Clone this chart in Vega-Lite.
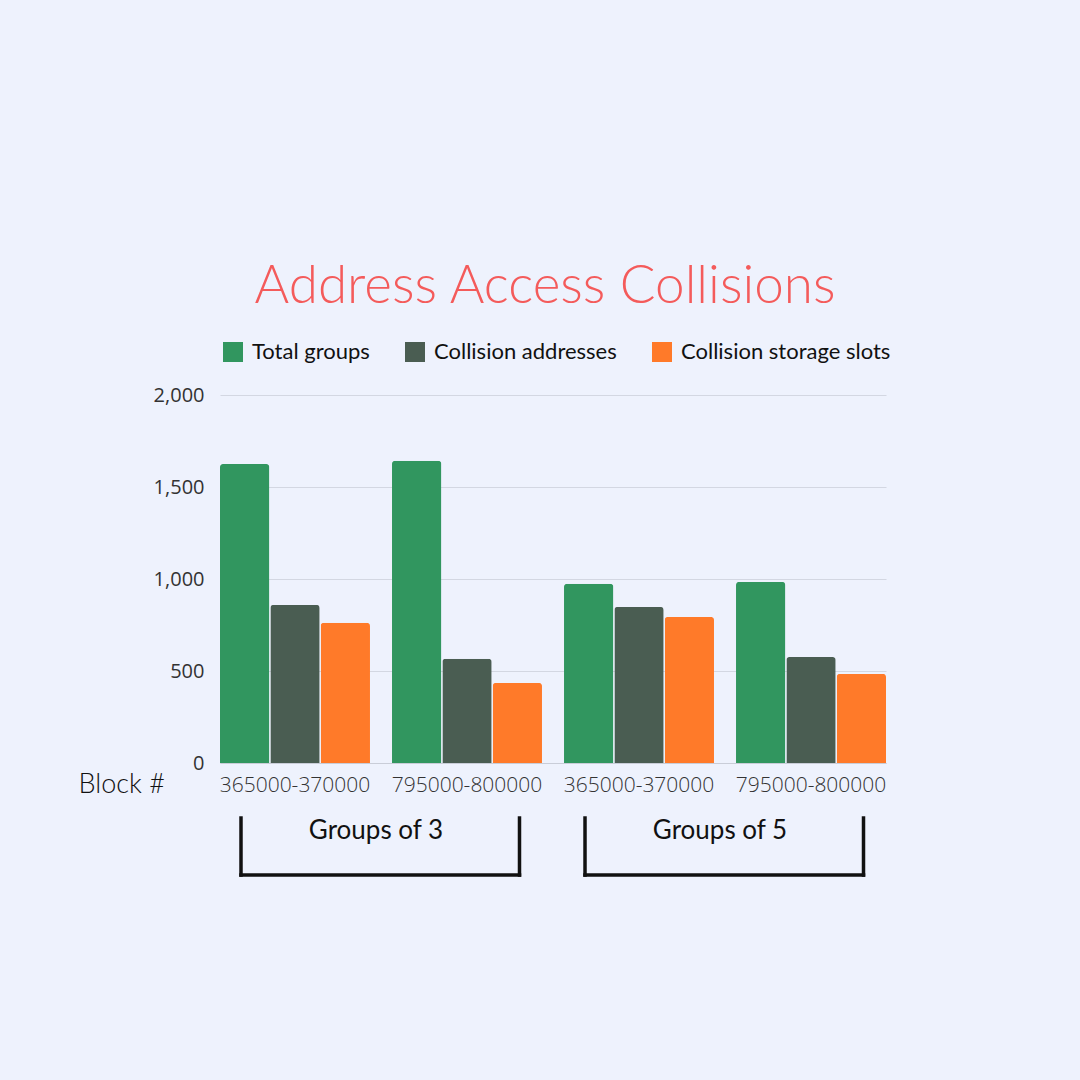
{
  "$schema": "https://vega.github.io/schema/vega-lite/v6.json",
  "width": 666,
  "height": 368,
  "autosize": {"type": "none"},
  "padding": {"left": 220, "top": 395, "right": 194, "bottom": 317},
  "background": "#EEF2FD",
  "title": {
    "text": "Address Access Collisions",
    "frame": "group",
    "anchor": "middle",
    "dx": -8,
    "offset": 27,
    "font": "Lato",
    "fontSize": 53,
    "fontWeight": 300,
    "color": "#F45B5B"
  },
  "config": {
    "view": {"stroke": null},
    "axis": {"labelFont": "Open Sans", "labelColor": "#333333"}
  },
  "datasets": {
    "bars": [
      {"block": "G3|365000-370000", "series": "Total groups", "count": 1625},
      {"block": "G3|365000-370000", "series": "Collision addresses", "count": 859},
      {"block": "G3|365000-370000", "series": "Collision storage slots", "count": 762},
      {"block": "G3|795000-800000", "series": "Total groups", "count": 1642},
      {"block": "G3|795000-800000", "series": "Collision addresses", "count": 566},
      {"block": "G3|795000-800000", "series": "Collision storage slots", "count": 435},
      {"block": "G5|365000-370000", "series": "Total groups", "count": 974},
      {"block": "G5|365000-370000", "series": "Collision addresses", "count": 848},
      {"block": "G5|365000-370000", "series": "Collision storage slots", "count": 794},
      {"block": "G5|795000-800000", "series": "Total groups", "count": 984},
      {"block": "G5|795000-800000", "series": "Collision addresses", "count": 576},
      {"block": "G5|795000-800000", "series": "Collision storage slots", "count": 484}
    ],
    "brackets": [
      {"group": "Groups of 3", "first": "G3|365000-370000", "last": "G3|795000-800000"},
      {"group": "Groups of 5", "first": "G5|365000-370000", "last": "G5|795000-800000"}
    ]
  },
  "layer": [
    {
      "data": {"name": "bars"},
      "mark": {"type": "bar", "cornerRadiusTopLeft": 3, "cornerRadiusTopRight": 3},
      "encoding": {
        "x": {
          "field": "block",
          "type": "nominal",
          "title": "Block #",
          "scale": {
            "domain": ["G3|365000-370000", "G3|795000-800000", "G5|365000-370000", "G5|795000-800000"],
            "paddingInner": 0.128,
            "paddingOuter": 0
          },
          "axis": {
            "title": "Block #",
            "titleFont": "Lato",
            "titleFontSize": 27,
            "titleFontWeight": 300,
            "titleColor": "#111111",
            "titleAlign": "left",
            "titleBaseline": "alphabetic",
            "titleX": -142,
            "titleY": 29,
            "labelExpr": "split(datum.label, '|')[1]",
            "labelAngle": 0,
            "labelFontSize": 21,
            "labelFontWeight": 300,
            "labelPadding": 11,
            "labelLimit": 300,
            "ticks": false,
            "domainColor": "#C9CDD8"
          }
        },
        "xOffset": {
          "field": "series",
          "type": "nominal",
          "sort": ["Total groups", "Collision addresses", "Collision storage slots"],
          "scale": {"paddingInner": 0.02}
        },
        "y": {
          "field": "count",
          "type": "quantitative",
          "scale": {"domain": [0, 2000], "nice": false},
          "axis": {
            "title": null,
            "values": [0, 500, 1000, 1500, 2000],
            "format": ",d",
            "domain": false,
            "ticks": false,
            "labelFontSize": 20,
            "labelPadding": 16,
            "gridColor": "#D3D7E2"
          }
        },
        "color": {
          "field": "series",
          "type": "nominal",
          "scale": {
            "domain": ["Total groups", "Collision addresses", "Collision storage slots"],
            "range": ["#31965F", "#4A5D52", "#FF7A29"]
          },
          "legend": {
            "title": null,
            "orient": "none",
            "direction": "horizontal",
            "legendX": 2,
            "legendY": -54,
            "symbolType": "square",
            "symbolSize": 400,
            "symbolStrokeWidth": 0,
            "symbolOpacity": 1,
            "labelFont": "Lato",
            "labelFontSize": 22,
            "labelColor": "#111111",
            "labelOffset": 8,
            "labelLimit": 400,
            "columnPadding": 34
          }
        }
      }
    },
    {
      "data": {"name": "brackets"},
      "mark": {"type": "rule", "color": "#111111", "strokeWidth": 3.5, "strokeCap": "square"},
      "encoding": {
        "x": {"field": "first", "type": "nominal", "bandPosition": 0.14, "title": "Block #"},
        "x2": {"field": "last", "bandPosition": 0.85},
        "y": {"datum": -609}
      }
    },
    {
      "data": {"name": "brackets"},
      "mark": {"type": "rule", "color": "#111111", "strokeWidth": 3.5, "strokeCap": "square"},
      "encoding": {
        "x": {"field": "first", "type": "nominal", "bandPosition": 0.14, "title": "Block #"},
        "y": {"datum": -299},
        "y2": {"datum": -609}
      }
    },
    {
      "data": {"name": "brackets"},
      "mark": {"type": "rule", "color": "#111111", "strokeWidth": 3.5, "strokeCap": "square"},
      "encoding": {
        "x": {"field": "last", "type": "nominal", "bandPosition": 0.85, "title": "Block #"},
        "y": {"datum": -299},
        "y2": {"datum": -609}
      }
    },
    {
      "data": {"name": "brackets"},
      "mark": {"type": "text", "font": "Lato", "fontSize": 26, "color": "#111111", "baseline": "middle"},
      "encoding": {
        "x": {"field": "first", "type": "nominal", "bandPosition": 1.04, "title": "Block #"},
        "y": {"datum": -370},
        "text": {"field": "group"}
      }
    }
  ]
}
